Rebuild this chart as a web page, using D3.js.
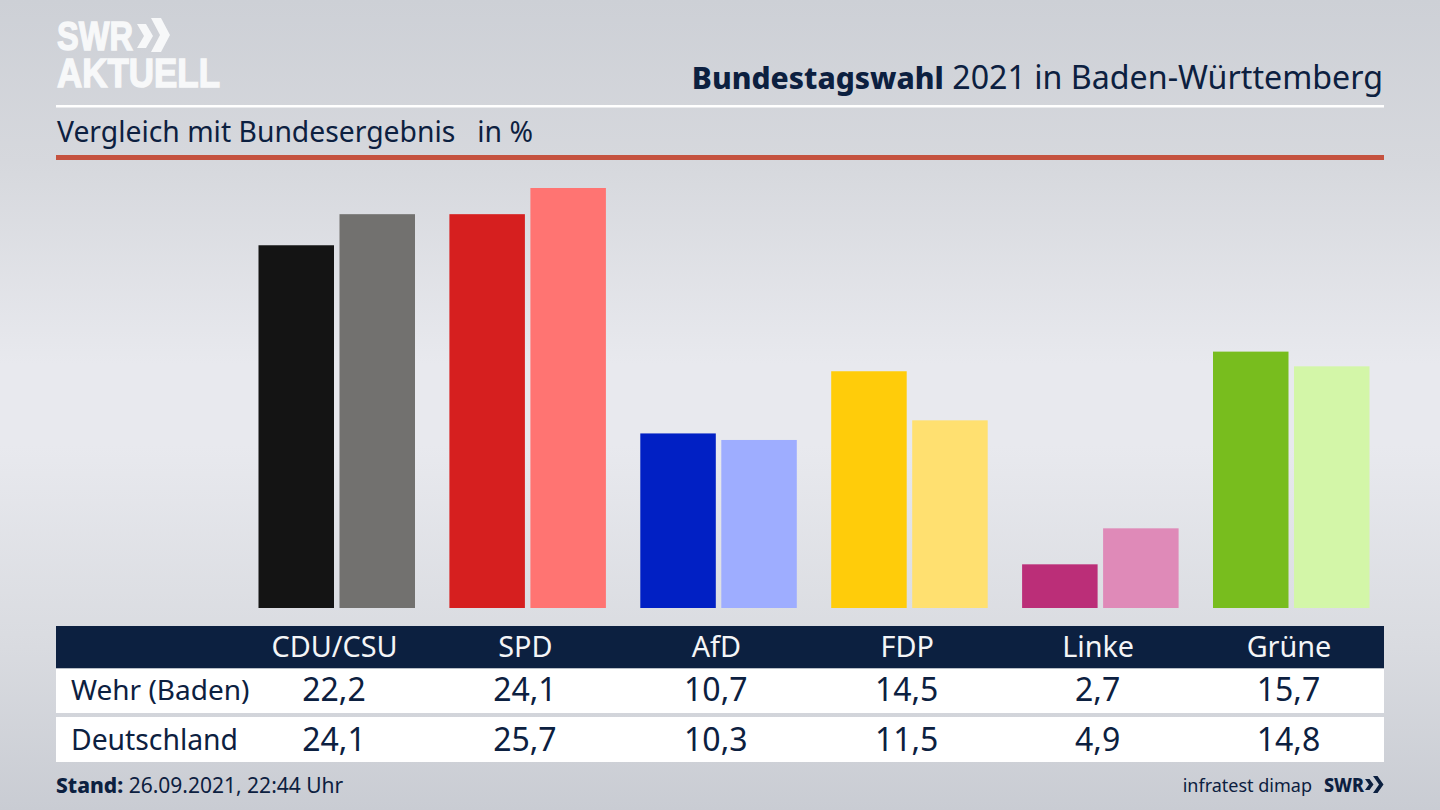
<!DOCTYPE html>
<html><head><meta charset="utf-8">
<script src="https://cdn.jsdelivr.net/npm/d3@7"></script>
<style>html,body{margin:0;padding:0;background:#d5d7dd;overflow:hidden}svg{display:block}text{font-family:"Noto Sans",sans-serif;fill:#0c2040}</style>
</head><body><svg id="c" width="1440" height="810"></svg>
<script>
const parties=["CDU/CSU","SPD","AfD","FDP","Linke","Grüne"];
const rowNames=["Wehr (Baden)","Deutschland"];
const wehr=[22.2,24.1,10.7,14.5,2.7,15.7];
const deutschland=[24.1,25.7,10.3,11.5,4.9,14.8];
const colorsWehr=["#141414","#d61f1f","#0120c4","#ffcc0a","#bb2e78","#78bd1e"];
const colorsDe=["#72716f","#ff7472","#9eadff","#ffe070","#df8ab8","#d3f6a8"];
const fmt=v=>v.toFixed(1).replace(".",",");
const svg=d3.select("#c");
const defs=svg.append("defs");
const g=defs.append("linearGradient").attr("id","bg").attr("x1",0).attr("x2",0).attr("y1",0).attr("y2",1);
[[0,"#cdd0d6"],[.2,"#d6d8dd"],[.45,"#e8e9ee"],[.55,"#e8e9ee"],[.8,"#d9dbe0"],[1,"#c9ccd3"]].forEach(s=>g.append("stop").attr("offset",s[0]).attr("stop-color",s[1]));
svg.append("rect").attr("width",1440).attr("height",810).attr("fill","url(#bg)");

// logo
const logo=svg.append("text").attr("font-size",40).attr("font-weight",700).style("font-family","'Liberation Sans',sans-serif").style("fill","#f7f8f9").style("stroke","#f7f8f9").style("stroke-width",1.4);
logo.append("tspan").attr("x",57).attr("y",50).attr("textLength",76).attr("lengthAdjust","spacingAndGlyphs").text("SWR");
logo.append("tspan").attr("x",57).attr("y",87).attr("textLength",163).attr("lengthAdjust","spacingAndGlyphs").text("AKTUELL");
const chev=(x,y,h,w,t)=>`M${x},${y}L${x+t},${y}L${x+t+w},${y+h/2}L${x+t},${y+h}L${x},${y+h}L${x+w},${y+h/2}Z`;
svg.append("path").attr("d",chev(137,24,24,7,9)+chev(151,18,34,9,10)).attr("fill","#f7f8f9");

// header
const title=svg.append("text").attr("x",1383).attr("y",89).attr("text-anchor","end");
title.append("tspan").attr("font-weight",800).attr("font-size",30).text("Bundestagswahl");
title.append("tspan").attr("font-size",32.2).text(" 2021 in Baden-Württemberg");
svg.append("rect").attr("x",56).attr("y",105).attr("width",1328).attr("height",2.5).attr("fill","#fff");
svg.append("text").attr("x",57).attr("y",142).attr("font-size",28.3).style("white-space","pre").text("Vergleich mit Bundesergebnis   in %");
svg.append("rect").attr("x",56).attr("y",155).attr("width",1328).attr("height",5).attr("fill","#c5523f");

// scales
const labelX=d3.scalePoint().domain(parties).range([334,1288.5]);
const barW=75.5, gap=5.5;
const y=d3.scaleLinear().domain([0,25.7]).range([608.5,188]);
const bars=svg.append("g");
bars.selectAll("rect.w").data(parties).join("rect").attr("class","w")
 .attr("x",p=>labelX(p)-barW).attr("width",barW)
 .attr("y",(p,i)=>y(wehr[i])).attr("height",(p,i)=>608-y(wehr[i])).attr("fill",(p,i)=>colorsWehr[i]);
bars.selectAll("rect.d").data(parties).join("rect").attr("class","d")
 .attr("x",p=>labelX(p)+gap).attr("width",barW)
 .attr("y",(p,i)=>y(deutschland[i])).attr("height",(p,i)=>608-y(deutschland[i])).attr("fill",(p,i)=>colorsDe[i]);

// table
svg.append("rect").attr("x",56).attr("y",626).attr("width",1328).attr("height",42.5).attr("fill","#0c2040");
svg.append("rect").attr("x",56).attr("y",668.5).attr("width",1328).attr("height",44.5).attr("fill","#fff");
svg.append("rect").attr("x",56).attr("y",717).attr("width",1328).attr("height",45).attr("fill","#fff");
const axis=d3.axisTop(labelX).tickSize(0);
const ax=svg.append("g").attr("transform","translate(0,657)").call(axis);
ax.select(".domain").remove();
ax.selectAll("text").attr("dy",0).attr("y",0).attr("font-size",28.8).style("fill","#f4f5f7");
ax.attr("font-size",null).attr("font-family",null);
[wehr,deutschland].forEach((vals,r)=>{
  const yy=r?751:701;
  svg.append("text").attr("x",71).attr("y",r?750:700).attr("font-size",r?28.3:28).text(rowNames[r]);
  svg.append("g").selectAll("text").data(parties).join("text").attr("x",p=>labelX(p)).attr("y",yy)
   .attr("text-anchor","middle").attr("font-size",32).text((p,i)=>fmt(vals[i]));
});

// footer
const st=svg.append("text").attr("x",56).attr("y",793).attr("font-size",21);
st.append("tspan").attr("font-weight",800).text("Stand:");
st.append("tspan").text(" 26.09.2021, 22:44 Uhr");
svg.append("text").attr("x",1312).attr("y",792).attr("text-anchor","end").attr("font-size",18).text("infratest dimap");
svg.append("text").attr("x",1324).attr("y",792).attr("font-size",19).attr("font-weight",800).attr("textLength",40).attr("lengthAdjust","spacingAndGlyphs").text("SWR");
svg.append("path").attr("d",chev(1365,779,11,4,4.5)+chev(1373,776,17,6,4.5)).attr("fill","#0c2040");
</script></body></html>
